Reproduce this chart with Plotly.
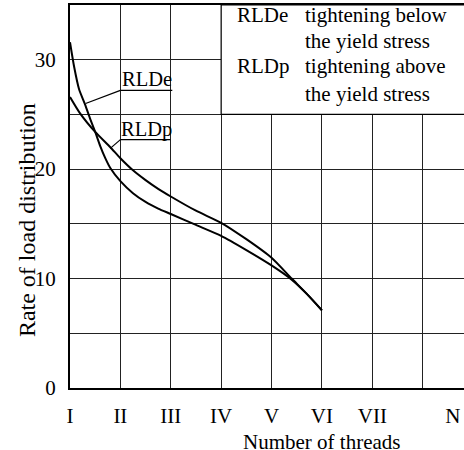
import plotly.graph_objects as go

# ---- data ----
x_rlde = [0, 0.08, 0.18, 0.3, 0.4, 0.5, 0.6, 0.7, 0.8, 1.0, 1.25, 1.5, 1.75, 2.0, 2.5, 3.0, 3.5, 4.0, 4.4, 4.7, 5.0]
rlde = [31.6, 29.4, 27.3, 25.9, 24.6, 23.4, 22.1, 21.0, 20.1, 18.9, 17.8, 17.0, 16.4, 15.9, 14.9, 13.9, 12.6, 11.2, 9.9, 8.6, 7.1]
x_rldp = [0, 0.2, 0.5, 0.8, 1.0, 1.25, 1.5, 1.75, 2.0, 2.5, 3.0, 3.5, 4.0, 4.4, 4.7, 5.0]
rldp = [26.6, 25.1, 23.4, 22.0, 21.0, 19.9, 19.0, 18.2, 17.5, 16.2, 15.1, 13.6, 11.9, 10.0, 8.6, 7.1]

x_tick_vals = [0, 1, 2, 3, 4, 5, 6, 7.6]
x_tick_text = ["I", "II", "III", "IV", "V", "VI", "VII", "N"]
x_grid_vals = [1, 2, 3, 4, 5, 6, 7]
y_tick_vals = [0, 10, 20, 30]
y_tick_text = ["0", "10", "20", "30"]
y_grid_vals = [5, 10, 15, 20, 25, 30]

FONT = "Liberation Serif, Times New Roman, serif"

fig = go.Figure()
fig.add_trace(go.Scatter(x=x_rlde, y=rlde, mode="lines", name="RLDe",
                         line=dict(color="black", width=2, shape="spline", smoothing=0.6)))
fig.add_trace(go.Scatter(x=x_rldp, y=rldp, mode="lines", name="RLDp",
                         line=dict(color="black", width=2, shape="spline", smoothing=0.6)))

# legend box (white, hides grid)
fig.add_shape(type="rect", xref="x", yref="y", x0=3, x1=8, y0=25, y1=35,
              fillcolor="white", line=dict(color="black", width=1.2), layer="between")

# curve labels with underline + leader lines
for lbl, (tx, ty), (ux0, ux1, uy), (lx, ly) in [
    ("RLDe", (1.53, 28.2), (1.0, 2.03, 27.2), (0.31, 26.0)),
    ("RLDp", (1.51, 23.6), (1.0, 1.99, 22.7), (0.80, 21.9)),
]:
    fig.add_annotation(x=tx, y=ty, xref="x", yref="y", text=lbl, showarrow=False,
                       font=dict(family=FONT, size=20.5, color="black"))
    fig.add_shape(type="line", xref="x", yref="y", x0=ux0, x1=ux1, y0=uy, y1=uy,
                  line=dict(color="black", width=1.2))
    fig.add_shape(type="line", xref="x", yref="y", x0=ux0, x1=lx, y0=uy, y1=ly,
                  line=dict(color="black", width=1.2))

# legend texts
legend_rows = [
    (3.28, 34.1, "RLDe"),
    (4.63, 34.1, "tightening below"),
    (4.63, 31.7, "the yield stress"),
    (3.28, 29.4, "RLDp"),
    (4.63, 29.4, "tightening above"),
    (4.63, 26.9, "the yield stress"),
]
for lx, ly, t in legend_rows:
    fig.add_annotation(x=lx, y=ly, xref="x", yref="y", text=t, showarrow=False,
                       xanchor="left", yanchor="middle",
                       font=dict(family=FONT, size=21, color="black"))

# [%] unit label
fig.add_annotation(x=-0.5, y=33.5, xref="x", yref="y", text="[%]", showarrow=False,
                   xanchor="center", yanchor="middle",
                   font=dict(family=FONT, size=20, color="black"))

# axis titles as annotations
fig.add_annotation(x=5.0, y=-0.142, xref="x", yref="paper", text="Number of threads",
                   showarrow=False, yanchor="middle",
                   font=dict(family=FONT, size=21, color="black"))
fig.add_annotation(x=-0.1085, y=0.439, xref="paper", yref="paper",
                   text="Rate of load distribution", textangle=-90, showarrow=False,
                   xanchor="center", yanchor="middle",
                   font=dict(family=FONT, size=24, color="black"))

fig.update_layout(
    width=464, height=450,
    margin=dict(l=69.5, r=0, t=5, b=62, autoexpand=False),
    paper_bgcolor="white", plot_bgcolor="white",
    showlegend=False,
    font=dict(family=FONT, size=20, color="black"),
    xaxis=dict(range=[0, 7.82], tickvals=x_tick_vals, ticktext=x_tick_text,
               automargin=False,
               showgrid=False, zeroline=False, showline=True, linecolor="black",
               linewidth=2, mirror=True, ticks="", ticklabelstandoff=8,
               tickfont=dict(family=FONT, size=21, color="black"),
               minor=dict(tickvals=x_grid_vals, showgrid=True, gridcolor="#222",
                          gridwidth=1, ticks="")),
    yaxis=dict(range=[0, 35], tickvals=y_tick_vals, ticktext=y_tick_text,
               automargin=False,
               showgrid=False, zeroline=False, showline=True, linecolor="black",
               linewidth=2, ticks="", ticklabelstandoff=8,
               tickfont=dict(family=FONT, size=21, color="black"),
               minor=dict(tickvals=y_grid_vals, showgrid=True, gridcolor="#222",
                          gridwidth=1, ticks="")),
)

fig.write_html("out.html", config={"displayModeBar": False},
               post_script="document.body.style.margin='0';document.body.style.padding='0';")
